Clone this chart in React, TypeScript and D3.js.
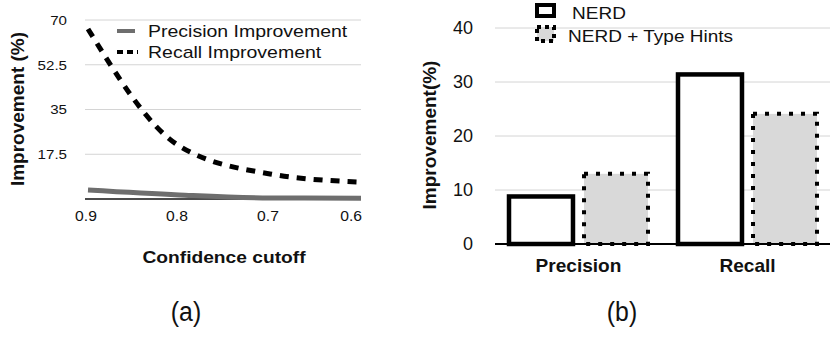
import React from 'react';
import * as d3 from 'd3';

// Panel (a): improvement vs confidence cutoff
const cutoffs = ['0.9', '0.8', '0.7', '0.6'];
const precisionImprovement = [3.5, 1.6, 0.4, 0.3];
const recallImprovement = [66.5, 20.8, 9.8, 6.6];
const leftTicks = [0, 17.5, 35, 52.5, 70];

// Panel (b): NERD vs NERD + Type Hints
const metrics = ['Precision', 'Recall'];
const systems = ['NERD', 'NERD + Type Hints'];
const nerdValues = [8.8, 31.4];
const typeHintValues = [13.0, 24.1];
const rightTicks = [0, 10, 20, 30, 40];

const FONT = 'Liberation Sans, Arial, Helvetica, sans-serif';
const GRID = '#d4d4d4';
const GREY_LINE = '#6e6e6e';
const HINT_FILL = '#d9d9d9';

type TxtProps = {
  x: number;
  y: number;
  size: number;
  sx?: number;
  bold?: boolean;
  anchor?: 'start' | 'middle' | 'end';
  rotate?: boolean;
  dy?: string;
  children: React.ReactNode;
};

// text with a slight horizontal stretch, like the source figure
function Txt({ x, y, size, sx = 1, bold, anchor = 'start', rotate, dy, children }: TxtProps) {
  const t = `translate(${x},${y})${rotate ? ' rotate(-90)' : ''} scale(${sx},1)`;
  return (
    <text
      transform={t}
      fontSize={size}
      fontWeight={bold ? 700 : 400}
      fontFamily={FONT}
      textAnchor={anchor}
      dy={dy}
      fill="#111"
    >
      {children}
    </text>
  );
}

function LeftChart() {
  const x = d3.scalePoint<string>().domain(cutoffs).range([88, 361]);
  const y = d3.scaleLinear().domain([0, 70]).range([199, 20]);

  const line = d3
    .line<number>()
    .x((_, i) => x(cutoffs[i]) as number)
    .y((d) => y(d))
    .curve(d3.curveMonotoneX);

  return (
    <g>
      {leftTicks.filter((t) => t > 0).map((t) => (
        <line key={t} x1={85} x2={361} y1={y(t)} y2={y(t)} stroke={GRID} strokeWidth={1} />
      ))}
      <line x1={85} x2={361} y1={y(0)} y2={y(0)} stroke="#111" strokeWidth={1.5} />
      {leftTicks.map((t) => (
        <Txt key={t} x={67} y={y(t)} size={13.5} sx={1.12} anchor="end" dy="0.36em">
          {t === 0 ? '' : String(t)}
        </Txt>
      ))}
      {cutoffs.map((c, i) => (
        <Txt
          key={c}
          x={(x(c) as number) + (i === cutoffs.length - 1 ? 1 : -2)}
          y={221}
          size={14}
          sx={1.12}
          anchor={i === cutoffs.length - 1 ? 'end' : 'middle'}
        >
          {c}
        </Txt>
      ))}

      <path d={line(precisionImprovement) || ''} fill="none" stroke={GREY_LINE} strokeWidth={5} />
      <path
        d={line(recallImprovement) || ''}
        fill="none"
        stroke="#000"
        strokeWidth={5}
        strokeDasharray="9,8"
      />

      {/* legend */}
      <line x1={117} x2={135} y1={31} y2={31} stroke={GREY_LINE} strokeWidth={4} />
      <Txt x={148} y={37} size={16.8} sx={1.16}>Precision Improvement</Txt>
      <line x1={117} x2={138} y1={52} y2={52} stroke="#000" strokeWidth={4} strokeDasharray="6,4" />
      <Txt x={148} y={58} size={16.8} sx={1.16}>Recall Improvement</Txt>

      <Txt x={224} y={263} size={16} sx={1.2} bold anchor="middle">Confidence cutoff</Txt>
      <Txt x={24} y={109} size={19} bold anchor="middle" rotate>Improvement (%)</Txt>
      <Txt x={186} y={321} size={27} sx={0.92} anchor="middle">(a)</Txt>
    </g>
  );
}

function RightChart() {
  const x0 = d3.scaleBand<string>().domain(metrics).range([494, 832]);
  const x1 = d3
    .scaleBand<string>()
    .domain(systems)
    .range([15, 154])
    .paddingInner(0.147);
  const y = d3.scaleLinear().domain([0, 40]).range([244, 28]);

  return (
    <g>
      {rightTicks.filter((t) => t > 0).map((t) => (
        <line key={t} x1={495} x2={830} y1={y(t)} y2={y(t)} stroke={GRID} strokeWidth={1} />
      ))}
      {rightTicks.map((t) => (
        <Txt key={t} x={473} y={y(t)} size={18} anchor="end" dy="0.36em">
          {String(t)}
        </Txt>
      ))}

      {metrics.map((m, i) => {
        const gx = x0(m) as number;
        const bw = x1.bandwidth();
        return (
          <g key={m}>
            <rect
              x={gx + (x1('NERD') as number)}
              y={y(nerdValues[i])}
              width={bw}
              height={y(0) - y(nerdValues[i])}
              fill="#fff"
              stroke="#000"
              strokeWidth={4.5}
            />
            <rect
              x={gx + (x1('NERD + Type Hints') as number)}
              y={y(typeHintValues[i])}
              width={bw}
              height={y(0) - y(typeHintValues[i])}
              fill={HINT_FILL}
              stroke="#000"
              strokeWidth={4}
              strokeDasharray="4,8"
            />
            <Txt x={gx + x0.bandwidth() / 2} y={272} size={18} sx={1.06} bold anchor="middle">
              {m}
            </Txt>
          </g>
        );
      })}
      <line x1={495} x2={830} y1={y(0)} y2={y(0)} stroke="#000" strokeWidth={2} />

      {/* legend */}
      <rect x={537} y={5} width={17} height={11} fill="#fff" stroke="#000" strokeWidth={4} />
      <Txt x={572} y={19} size={17} sx={1.12}>{systems[0]}</Txt>
      <rect
        x={537}
        y={27}
        width={17}
        height={14}
        fill={HINT_FILL}
        stroke="#000"
        strokeWidth={4}
        strokeDasharray="4,4"
      />
      <Txt x={568} y={42} size={17} sx={1.12}>{systems[1]}</Txt>

      <Txt x={436} y={135} size={19} bold anchor="middle" rotate>Improvement(%)</Txt>
      <Txt x={622} y={321} size={27} sx={0.92} anchor="middle">(b)</Txt>
    </g>
  );
}

export default function App() {
  return (
    <svg
      width={830}
      height={340}
      style={{ position: 'absolute', left: 0, top: 0, background: '#fff' }}
    >
      <rect width={830} height={340} fill="#fff" />
      <LeftChart />
      <RightChart />
    </svg>
  );
}
